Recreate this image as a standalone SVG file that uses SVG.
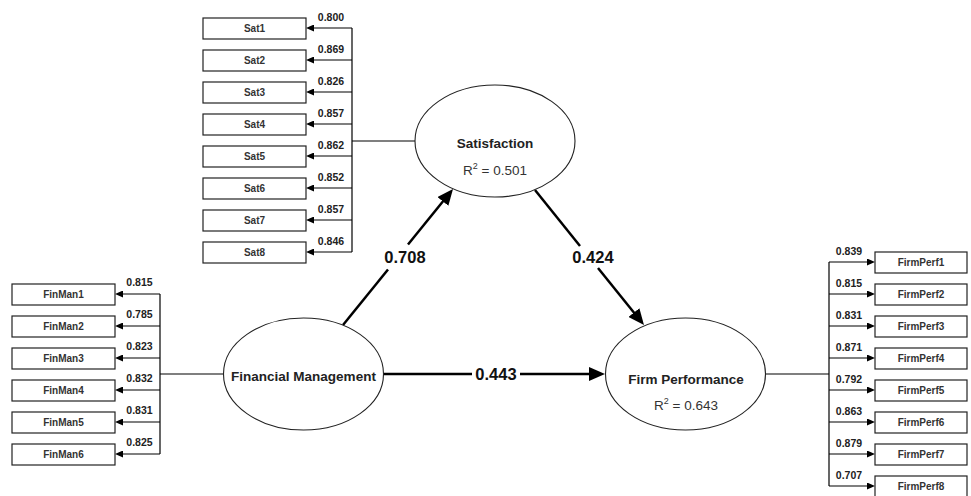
<svg xmlns="http://www.w3.org/2000/svg" width="971" height="496" viewBox="0 0 971 496">
  <defs>
    <marker id="big" markerUnits="userSpaceOnUse" markerWidth="16" markerHeight="14" refX="6" refY="7" orient="auto">
      <path d="M0,0 L16,7 L0,14 z" fill="#000"/>
    </marker>
    <marker id="small" markerUnits="userSpaceOnUse" markerWidth="8" markerHeight="7" refX="4" refY="3.5" orient="auto">
      <path d="M0,0 L8,3.5 L0,7 z" fill="#000"/>
    </marker>
  </defs>
  <style>
    .box { fill: #fff; stroke: #222; stroke-width: 1.2; }
    .ell { fill: #fff; stroke: #222; stroke-width: 1.1; }
    .ind { font-family: "Liberation Sans", Arial, sans-serif; font-size: 10px; font-weight: bold; fill: #333; text-anchor: middle; }
    .load { font-family: "Liberation Sans", Arial, sans-serif; font-size: 10.5px; font-weight: bold; fill: #222; text-anchor: middle; }
    .lv { font-family: "Liberation Sans", Arial, sans-serif; font-size: 13.5px; font-weight: bold; fill: #222; text-anchor: middle; }
    .r2 { font-family: "Liberation Sans", Arial, sans-serif; font-size: 13.5px; fill: #333; text-anchor: middle; }
    .coef { font-family: "Liberation Sans", Arial, sans-serif; font-size: 16.5px; font-weight: bold; fill: #111; text-anchor: middle; }
    .thin { stroke: #000; stroke-width: 1.2; fill: none; }
    .path { stroke: #000; stroke-width: 2.5; fill: none; }
    .arr { stroke: #000; stroke-width: 1.2; marker-end: url(#small); }
  </style>

  <!-- connectors -->
  <g id="connectors">
    <!-- Satisfaction indicators -->
    <line class="thin" x1="415" y1="141" x2="352" y2="141"/>
    <line class="thin" x1="352" y1="28" x2="352" y2="252"/>
    <line class="arr" x1="352" y1="28" x2="310" y2="28"/>
    <line class="arr" x1="352" y1="60" x2="310" y2="60"/>
    <line class="arr" x1="352" y1="92" x2="310" y2="92"/>
    <line class="arr" x1="352" y1="124" x2="310" y2="124"/>
    <line class="arr" x1="352" y1="156" x2="310" y2="156"/>
    <line class="arr" x1="352" y1="188" x2="310" y2="188"/>
    <line class="arr" x1="352" y1="220" x2="310" y2="220"/>
    <line class="arr" x1="352" y1="252" x2="310" y2="252"/>
    <!-- Financial Management indicators -->
    <line class="thin" x1="223" y1="374" x2="160" y2="374"/>
    <line class="thin" x1="160" y1="294" x2="160" y2="454"/>
    <line class="arr" x1="160" y1="294" x2="119" y2="294"/>
    <line class="arr" x1="160" y1="326" x2="119" y2="326"/>
    <line class="arr" x1="160" y1="358" x2="119" y2="358"/>
    <line class="arr" x1="160" y1="390" x2="119" y2="390"/>
    <line class="arr" x1="160" y1="422" x2="119" y2="422"/>
    <line class="arr" x1="160" y1="454" x2="119" y2="454"/>
    <!-- Firm Performance indicators -->
    <line class="thin" x1="765" y1="374" x2="829" y2="374"/>
    <line class="thin" x1="829" y1="262" x2="829" y2="486"/>
    <line class="arr" x1="829" y1="262" x2="871" y2="262"/>
    <line class="arr" x1="829" y1="294" x2="871" y2="294"/>
    <line class="arr" x1="829" y1="326" x2="871" y2="326"/>
    <line class="arr" x1="829" y1="358" x2="871" y2="358"/>
    <line class="arr" x1="829" y1="390" x2="871" y2="390"/>
    <line class="arr" x1="829" y1="422" x2="871" y2="422"/>
    <line class="arr" x1="829" y1="454" x2="871" y2="454"/>
    <line class="arr" x1="829" y1="486" x2="871" y2="486"/>

    <!-- structural paths -->
    <line class="path" x1="343" y1="325" x2="388" y2="269.5"/>
    <line class="path" x1="408" y1="244.5" x2="446.7" y2="196.8" marker-end="url(#big)"/>
    <text class="coef" x="405" y="263">0.708</text>

    <line class="path" x1="535" y1="190" x2="580" y2="246"/>
    <line class="path" x1="598" y1="268" x2="637.7" y2="317.2" marker-end="url(#big)"/>
    <text class="coef" x="593" y="263">0.424</text>

    <line class="path" x1="384" y1="374" x2="472" y2="374"/>
    <line class="path" x1="520" y1="374" x2="595" y2="374" marker-end="url(#big)"/>
    <text class="coef" x="496" y="380">0.443</text>

    <!-- loadings -->
    <text class="load" x="331" y="21">0.800</text>
    <text class="load" x="331" y="53">0.869</text>
    <text class="load" x="331" y="85">0.826</text>
    <text class="load" x="331" y="117">0.857</text>
    <text class="load" x="331" y="149">0.862</text>
    <text class="load" x="331" y="181">0.852</text>
    <text class="load" x="331" y="213">0.857</text>
    <text class="load" x="331" y="245">0.846</text>

    <text class="load" x="139.5" y="286">0.815</text>
    <text class="load" x="139.5" y="318">0.785</text>
    <text class="load" x="139.5" y="350">0.823</text>
    <text class="load" x="139.5" y="382">0.832</text>
    <text class="load" x="139.5" y="414">0.831</text>
    <text class="load" x="139.5" y="446">0.825</text>

    <text class="load" x="849" y="255">0.839</text>
    <text class="load" x="849" y="287">0.815</text>
    <text class="load" x="849" y="319">0.831</text>
    <text class="load" x="849" y="351">0.871</text>
    <text class="load" x="849" y="383">0.792</text>
    <text class="load" x="849" y="415">0.863</text>
    <text class="load" x="849" y="447">0.879</text>
    <text class="load" x="849" y="479">0.707</text>
  </g>

  <!-- latent variables -->
  <g id="satisfaction">
    <ellipse class="ell" cx="495" cy="141" rx="80" ry="56"/>
    <text class="lv" x="495" y="148">Satisfaction</text>
    <text class="r2" x="495" y="175">R<tspan font-size="9" dy="-6">2</tspan><tspan dy="6"> = 0.501</tspan></text>
  </g>
  <g id="financial-management">
    <ellipse class="ell" cx="303.5" cy="374" rx="80" ry="56"/>
    <text class="lv" x="303.5" y="381">Financial Management</text>
  </g>
  <g id="firm-performance">
    <ellipse class="ell" cx="685.5" cy="374" rx="80" ry="56"/>
    <text class="lv" x="686" y="384">Firm Performance</text>
    <text class="r2" x="686" y="410">R<tspan font-size="9" dy="-6">2</tspan><tspan dy="6"> = 0.643</tspan></text>
  </g>

  <!-- Satisfaction indicators -->
  <g id="sat1"><rect class="box" x="203" y="18" width="103" height="21"/><text class="ind" x="254.5" y="32">Sat1</text></g>
  <g id="sat2"><rect class="box" x="203" y="50" width="103" height="21"/><text class="ind" x="254.5" y="64">Sat2</text></g>
  <g id="sat3"><rect class="box" x="203" y="82" width="103" height="21"/><text class="ind" x="254.5" y="96">Sat3</text></g>
  <g id="sat4"><rect class="box" x="203" y="114" width="103" height="21"/><text class="ind" x="254.5" y="128">Sat4</text></g>
  <g id="sat5"><rect class="box" x="203" y="146" width="103" height="21"/><text class="ind" x="254.5" y="160">Sat5</text></g>
  <g id="sat6"><rect class="box" x="203" y="178" width="103" height="21"/><text class="ind" x="254.5" y="192">Sat6</text></g>
  <g id="sat7"><rect class="box" x="203" y="210" width="103" height="21"/><text class="ind" x="254.5" y="224">Sat7</text></g>
  <g id="sat8"><rect class="box" x="203" y="242" width="103" height="21"/><text class="ind" x="254.5" y="256">Sat8</text></g>

  <!-- Financial Management indicators -->
  <g id="finman1"><rect class="box" x="12" y="284" width="103" height="21"/><text class="ind" x="63.5" y="298">FinMan1</text></g>
  <g id="finman2"><rect class="box" x="12" y="316" width="103" height="21"/><text class="ind" x="63.5" y="330">FinMan2</text></g>
  <g id="finman3"><rect class="box" x="12" y="348" width="103" height="21"/><text class="ind" x="63.5" y="362">FinMan3</text></g>
  <g id="finman4"><rect class="box" x="12" y="380" width="103" height="21"/><text class="ind" x="63.5" y="394">FinMan4</text></g>
  <g id="finman5"><rect class="box" x="12" y="412" width="103" height="21"/><text class="ind" x="63.5" y="426">FinMan5</text></g>
  <g id="finman6"><rect class="box" x="12" y="444" width="103" height="21"/><text class="ind" x="63.5" y="458">FinMan6</text></g>

  <!-- Firm Performance indicators -->
  <g id="firmperf1"><rect class="box" x="875" y="252" width="92" height="21"/><text class="ind" x="921" y="266">FirmPerf1</text></g>
  <g id="firmperf2"><rect class="box" x="875" y="284" width="92" height="21"/><text class="ind" x="921" y="298">FirmPerf2</text></g>
  <g id="firmperf3"><rect class="box" x="875" y="316" width="92" height="21"/><text class="ind" x="921" y="330">FirmPerf3</text></g>
  <g id="firmperf4"><rect class="box" x="875" y="348" width="92" height="21"/><text class="ind" x="921" y="362">FirmPerf4</text></g>
  <g id="firmperf5"><rect class="box" x="875" y="380" width="92" height="21"/><text class="ind" x="921" y="394">FirmPerf5</text></g>
  <g id="firmperf6"><rect class="box" x="875" y="412" width="92" height="21"/><text class="ind" x="921" y="426">FirmPerf6</text></g>
  <g id="firmperf7"><rect class="box" x="875" y="444" width="92" height="21"/><text class="ind" x="921" y="458">FirmPerf7</text></g>
  <g id="firmperf8"><rect class="box" x="875" y="476" width="92" height="21"/><text class="ind" x="921" y="490">FirmPerf8</text></g>
</svg>
